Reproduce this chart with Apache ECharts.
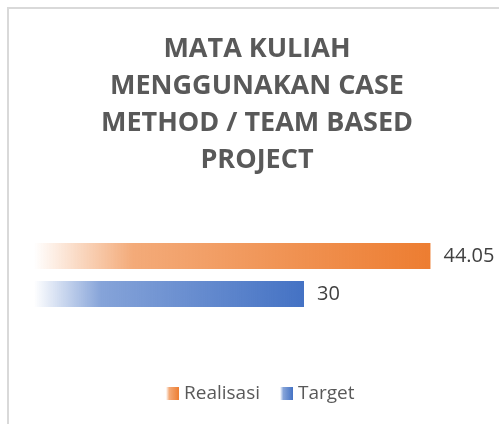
<!DOCTYPE html>
<html>
<head>
<meta charset="utf-8">
<script src="https://cdn.jsdelivr.net/npm/echarts@6/dist/echarts.min.js"></script>
<style>
  html, body { margin: 0; padding: 0; background: #fff; overflow: hidden; }
  #frame { position: absolute; left: 7px; top: 7px; width: 520px; height: 430px;
           border-left: 2px solid #d9d9d9; border-top: 2px solid #d9d9d9; }
  #chart { width: 496px; height: 415px; }
</style>
</head>
<body>
<div id="frame"><div id="chart"></div></div>
<script>
var titleText = 'MATA KULIAH\nMENGGUNAKAN CASE\nMETHOD / TEAM BASED\nPROJECT';
var categories = [''];
var seriesNames = ['Realisasi', 'Target'];
var realisasi = [44.05];
var target = [30];

function fade(r, g, b) {
    return new echarts.graphic.LinearGradient(0, 0, 1, 0, [
        { offset: 0, color: 'rgba(' + r + ',' + g + ',' + b + ',0)' },
        { offset: 0.25, color: 'rgba(' + r + ',' + g + ',' + b + ',0.65)' },
        { offset: 1, color: 'rgba(' + r + ',' + g + ',' + b + ',1)' }
    ]);
}

var myChart = echarts.init(document.getElementById('chart'));

var label = {
    show: true,
    position: 'right',
    distance: 13,
    fontFamily: 'Open Sans',
    fontSize: 20,
    color: '#404040'
};

var option = {
    animation: false,
    title: {
        text: titleText,
        left: 'center',
        top: 17,
        textStyle: {
            fontFamily: 'Open Sans',
            fontWeight: 'bold',
            fontSize: 27,
            lineHeight: 37,
            color: '#595959'
        }
    },
    legend: {
        data: seriesNames,
        left: 157,
        top: 375,
        padding: 0,
        itemWidth: 13,
        itemHeight: 13,
        itemGap: 20,
        icon: 'rect',
        textStyle: {
            fontFamily: 'Open Sans',
            fontSize: 19,
            color: '#595959'
        }
    },
    grid: {
        left: 25,
        top: 216,
        width: 450,
        height: 100
    },
    xAxis: {
        type: 'value',
        min: 0,
        max: 50,
        show: false
    },
    yAxis: {
        type: 'category',
        data: categories,
        show: false
    },
    series: [
        {
            name: seriesNames[0],
            type: 'bar',
            data: realisasi,
            barWidth: 26,
            barGap: '46%',
            itemStyle: { color: fade(237, 125, 49) },
            label: label
        },
        {
            name: seriesNames[1],
            type: 'bar',
            data: target,
            barWidth: 26,
            barGap: '46%',
            itemStyle: { color: fade(68, 114, 196) },
            label: label
        }
    ]
};

myChart.setOption(option);
</script>
</body>
</html>
